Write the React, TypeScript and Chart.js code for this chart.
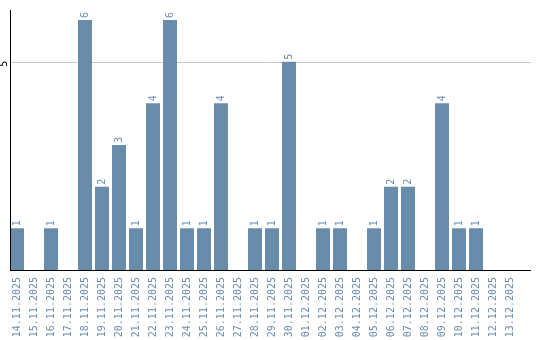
import React, { useEffect, useRef } from "react";
import { Chart, registerables } from "chart.js";

Chart.register(...registerables);

const categories = [
  "14.11.2025", "15.11.2025", "16.11.2025", "17.11.2025", "18.11.2025", "19.11.2025",
  "20.11.2025", "21.11.2025", "22.11.2025", "23.11.2025", "24.11.2025", "25.11.2025",
  "26.11.2025", "27.11.2025", "28.11.2025", "29.11.2025", "30.11.2025", "01.12.2025",
  "02.12.2025", "03.12.2025", "04.12.2025", "05.12.2025", "06.12.2025", "07.12.2025",
  "08.12.2025", "09.12.2025", "10.12.2025", "11.12.2025", "12.12.2025", "13.12.2025",
];
const counts = [1, 0, 1, 0, 6, 2, 3, 1, 4, 6, 1, 1, 4, 0, 1, 1, 5, 0, 1, 1, 0, 1, 2, 2, 0, 4, 1, 1, 0, 0];
const yTicks = [5];

const BAR = "#6a8cab";
const TEXT = "#6a8cb0";
const FONT = "10px 'DejaVu Sans Mono', monospace";

const decor = {
  id: "decor",
  beforeDatasetsDraw(chart: any) {
    const { ctx } = chart;
    const y = chart.scales.y;
    ctx.save();
    ctx.strokeStyle = "#c8c8c8";
    ctx.lineWidth = 1;
    yTicks.forEach((t) => {
      const py = Math.round(y.getPixelForValue(t)) + 0.5;
      ctx.beginPath();
      ctx.moveTo(10, py);
      ctx.lineTo(531, py);
      ctx.stroke();
    });
    ctx.restore();
  },
  afterDatasetsDraw(chart: any) {
    const { ctx } = chart;
    const x = chart.scales.x;
    const y = chart.scales.y;
    ctx.save();
    // axes
    ctx.strokeStyle = "#000";
    ctx.lineWidth = 1;
    const bottom = Math.round(y.getPixelForValue(0)) + 0.5;
    ctx.beginPath();
    ctx.moveTo(10.5, chart.chartArea.top);
    ctx.lineTo(10.5, bottom);
    ctx.moveTo(10, bottom);
    ctx.lineTo(531, bottom);
    ctx.stroke();
    // y tick labels
    ctx.font = FONT;
    ctx.fillStyle = "#000";
    ctx.textAlign = "center";
    ctx.textBaseline = "middle";
    yTicks.forEach((t) => {
      ctx.save();
      ctx.translate(4, y.getPixelForValue(t) + 2);
      ctx.rotate(-Math.PI / 2);
      ctx.fillText(String(t), 0, 0);
      ctx.restore();
    });
    // data labels
    ctx.fillStyle = TEXT;
    ctx.textAlign = "left";
    ctx.textBaseline = "middle";
    counts.forEach((v, i) => {
      if (!v) return;
      ctx.save();
      ctx.translate(x.getPixelForValue(i), y.getPixelForValue(v) - 2);
      ctx.rotate(-Math.PI / 2);
      ctx.fillText(String(v), 0, 0);
      ctx.restore();
    });
    ctx.restore();
  },
};

export default function App() {
  const ref = useRef<HTMLCanvasElement>(null);
  useEffect(() => {
    document.body.style.margin = "0";
    const chart = new Chart(ref.current!, {
      type: "bar",
      data: {
        labels: categories,
        datasets: [
          {
            data: counts,
            backgroundColor: BAR,
            borderWidth: 0,
            barPercentage: 14 / 17,
            categoryPercentage: 1,
          },
        ],
      },
      options: {
        animation: false,
        responsive: false,
        maintainAspectRatio: false,
        layout: { padding: { left: 8.5, right: 21.5, top: 10, bottom: 0 } },
        plugins: { legend: { display: false }, tooltip: { enabled: false } },
        scales: {
          x: {
            offset: true,
            grid: { display: false, drawTicks: false },
            border: { display: false },
            ticks: {
              autoSkip: false,
              minRotation: 90,
              maxRotation: 90,
              padding: 7,
              color: TEXT,
              font: { family: "'DejaVu Sans Mono', monospace", size: 10 },
            },
            afterFit(scale: any) {
              scale.height = 70;
            },
          },
          y: {
            display: false,
            min: 0,
            max: 6.24,
          },
        },
      },
      plugins: [decor],
    });
    return () => chart.destroy();
  }, []);
  return <canvas ref={ref} width={540} height={340} style={{ display: "block" }} />;
}
